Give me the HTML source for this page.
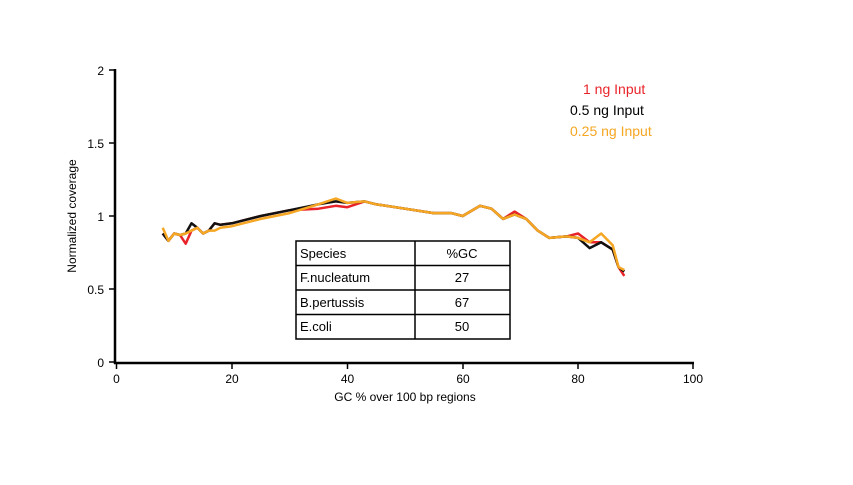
<!DOCTYPE html>
<html><head><meta charset="utf-8"><style>
body{margin:0;background:#fff;width:853px;height:480px;overflow:hidden;font-family:"Liberation Sans",sans-serif}
</style></head><body>
<svg id="s" width="853" height="480" xmlns="http://www.w3.org/2000/svg" font-family="Liberation Sans, sans-serif">
<g stroke="#000" stroke-width="2.5" fill="none">
<line x1="115" y1="69" x2="115" y2="364"/>
<line x1="114" y1="363" x2="694" y2="363"/>
</g>
<g stroke="#000" stroke-width="1.5">
<line x1="109" y1="70" x2="115" y2="70"/><line x1="109" y1="143" x2="115" y2="143"/>
<line x1="109" y1="216" x2="115" y2="216"/><line x1="109" y1="289" x2="115" y2="289"/>
<line x1="109" y1="362" x2="115" y2="362"/>
<line x1="116.5" y1="363" x2="116.5" y2="369"/><line x1="232" y1="363" x2="232" y2="369"/>
<line x1="347.5" y1="363" x2="347.5" y2="369"/><line x1="463" y1="363" x2="463" y2="369"/>
<line x1="578" y1="363" x2="578" y2="369"/><line x1="693" y1="363" x2="693" y2="369"/>
</g>
<g font-size="12" text-anchor="end" fill="#000">
<text x="104" y="75">2</text><text x="104" y="148">1.5</text><text x="104" y="221">1</text>
<text x="104" y="294">0.5</text><text x="104" y="367">0</text>
</g>
<g font-size="12" text-anchor="middle" fill="#000">
<text x="116.5" y="383">0</text><text x="232" y="383">20</text><text x="347.5" y="383">40</text>
<text x="463" y="383">60</text><text x="578" y="383">80</text><text x="693" y="383">100</text>
<text x="405" y="401">GC % over 100 bp regions</text>
<text transform="translate(76,216) rotate(-90)">Normalized coverage</text>
</g>
<g id="curves" fill="none" stroke-width="2.5" stroke-linejoin="round"></g>
<g font-size="14">
<text x="583" y="94" fill="#e8242a">1 ng Input</text>
<text x="570" y="115" fill="#000">0.5 ng Input</text>
<text x="570" y="136" fill="#f5a623">0.25 ng Input</text>
</g>
<g stroke="#000" stroke-width="1.5" fill="#fff">
<rect x="296" y="241" width="214" height="98"/>
<line x1="415" y1="241" x2="415" y2="339"/>
<line x1="296" y1="265.5" x2="510" y2="265.5"/>
<line x1="296" y1="290" x2="510" y2="290"/>
<line x1="296" y1="314.5" x2="510" y2="314.5"/>
</g>
<g font-size="13" fill="#000">
<text x="300" y="258">Species</text><text x="300" y="282">F.nucleatum</text>
<text x="300" y="307">B.pertussis</text><text x="300" y="331">E.coli</text>
<g text-anchor="middle"><text x="462" y="258">%GC</text><text x="462" y="282">27</text>
<text x="462" y="307">67</text><text x="462" y="331">50</text></g>
</g>
</svg>
<script>
var base=[[8,.88],[9,.83],[10,.88],[11,.87],[12,.88],[13,.95],[14,.92],[15,.88],[16,.9],[17,.95],[18,.94],[20,.95],[25,1.0],[30,1.04],[35,1.08],[38,1.1],[40,1.09],[43,1.1],[45,1.08],[50,1.05],[55,1.02],[58,1.02],[60,1.0],[63,1.07],[65,1.05],[67,.98],[69,1.01],[71,.98],[73,.9],[75,.85],[78,.86],[80,.85],[82,.78],[84,.82],[86,.77],[87,.65],[88,.62]];
function mk(d,col){var p=d.map(function(a){return (116.5+5.77*a[0]).toFixed(1)+','+(362-146*a[1]).toFixed(1)}).join(' ');
var e=document.createElementNS('http://www.w3.org/2000/svg','polyline');e.setAttribute('points',p);e.setAttribute('stroke',col);document.getElementById('curves').appendChild(e);}
var red=base.map(function(a){var y=a[1];if(a[0]==12)y=.81;if(a[0]==13)y=.9;if(a[0]>=33&&a[0]<=40)y-=.03;if(a[0]==69)y=1.03;if(a[0]==80)y=.88;if(a[0]==82)y=.82;if(a[0]==88)y=.59;return [a[0],y]});
var yel=base.map(function(a){var y=a[1];if(a[0]==8)y=.92;if(a[0]==13)y=.9;if(a[0]==17)y=.9;if(a[0]>=18&&a[0]<=30)y-=.02;if(a[0]==38)y=1.12;if(a[0]==82)y=.82;if(a[0]==84)y=.88;if(a[0]==86)y=.8;if(a[0]==88)y=.63;return [a[0],y]});
mk(red,'#e8242a');mk(base,'#111');mk(yel,'#f5a623');
</script>
</body></html>
